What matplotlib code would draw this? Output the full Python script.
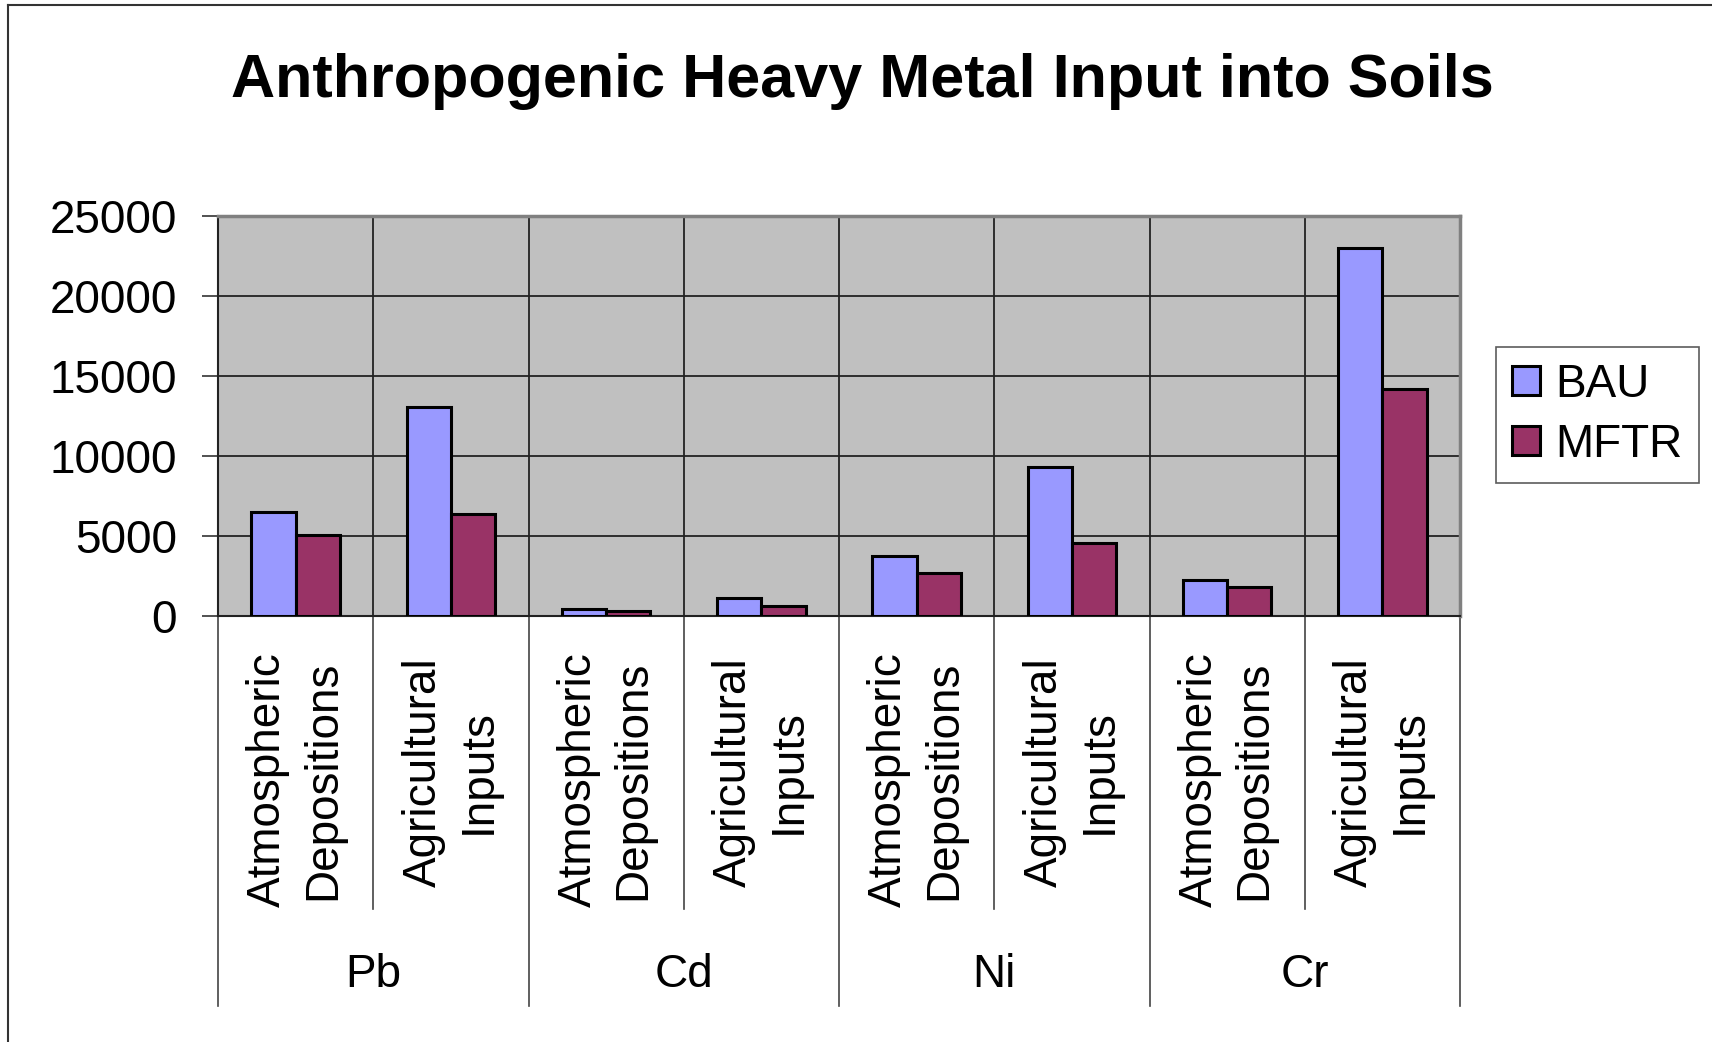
import numpy as np
import matplotlib.pyplot as plt
import matplotlib.transforms as mtransforms
from matplotlib.lines import Line2D

plt.rcParams["font.family"] = ["Liberation Sans", "DejaVu Sans"]

# heavy metal input per metal and source
metals = ["Pb", "Cd", "Ni", "Cr"]
sources = ["Atmospheric\nDepositions", "Agricultural\nInputs"]
bau = [6500, 13050, 450, 1100, 3750, 9300, 2250, 23000]
mftr = [5050, 6350, 300, 600, 2700, 4550, 1800, 14200]
yticks = [0, 5000, 10000, 15000, 20000, 25000]

W, H = 1712, 1042
fig = plt.figure(figsize=(W / 100, H / 100), dpi=100)
ax = fig.add_axes([218 / W, 1 - 616 / H, (1460 - 218) / W, 400 / H])
ax.set_facecolor("#C0C0C0")

x = np.arange(len(bau))
w = 1 / 3.5
ax.bar(x - w / 2, bau, w, color="#9999FF", edgecolor="black", linewidth=2.2,
       label="BAU", zorder=3)
ax.bar(x + w / 2, mftr, w, color="#993366", edgecolor="black", linewidth=2.2,
       label="MFTR", zorder=3)

ax.set_xlim(-0.5, len(bau) - 0.5)
ax.set_ylim(0, 25000)
ax.set_yticks(yticks)
ax.set_yticklabels([str(t) for t in yticks], fontsize=33)
ax.tick_params(axis="y", direction="out", length=11.5, width=1.2, pad=18,
               color="#333333")
ax.set_xticks([])

# grid: horizontal at ticks, vertical at category borders
for t in yticks[1:-1]:
    ax.axhline(t, color="#222222", lw=1.3, zorder=1)
for b in np.arange(0.5, len(bau) - 0.5):
    ax.axvline(b, color="#222222", lw=1.3, zorder=1)

ax.spines["left"].set_color("#222222")
ax.spines["bottom"].set_color("#222222")
ax.spines["left"].set_linewidth(1.5)
ax.spines["bottom"].set_linewidth(1.5)
ax.spines["top"].set_color("#808080")
ax.spines["right"].set_color("#808080")
ax.spines["top"].set_linewidth(2.5)
ax.spines["right"].set_linewidth(2.5)

# two-level category axis below the plot
trans = mtransforms.blended_transform_factory(ax.transData, ax.transAxes)
label_y = [-0.41, -0.39]
for i in range(len(bau)):
    ax.text(i, label_y[i % 2], sources[i % 2], rotation=90, ha="center",
            va="center", multialignment="center", fontsize=33,
            linespacing=1.32, transform=trans)
for b in np.arange(-0.5, len(bau), 2):
    ax.plot([b, b], [0, -0.975], color="#444444", lw=1.2, clip_on=False,
            transform=trans)
for b in np.arange(0.5, len(bau), 2):
    ax.plot([b, b], [0, -0.7325], color="#444444", lw=1.2, clip_on=False,
            transform=trans)
for j, m in enumerate(metals):
    ax.text(2 * j + 0.5, -0.8975, m, ha="center", va="center", fontsize=33,
            transform=trans)

leg = fig.legend(loc="upper left", bbox_to_anchor=(1496 / W, 1 - 347 / H),
                 fontsize=33, frameon=True, fancybox=False, borderpad=0.35,
                 handlelength=0.6, handleheight=0.6, handletextpad=0.35,
                 labelspacing=0.35, borderaxespad=0)
leg.get_frame().set_edgecolor("#333333")
leg.get_frame().set_linewidth(1.2)

fig.text(862 / W, 1 - 82 / H, "Anthropogenic Heavy Metal Input into Soils",
         ha="center", va="center", fontsize=44, fontweight="bold")

# outer chart border (top and left)
fig.add_artist(Line2D([8 / W, 8 / W], [0, 1 - 5 / H], color="#333333", lw=1.5))
fig.add_artist(Line2D([8 / W, 1], [1 - 5 / H, 1 - 5 / H], color="#333333", lw=1.5))

fig.savefig("out.png", dpi=100)
